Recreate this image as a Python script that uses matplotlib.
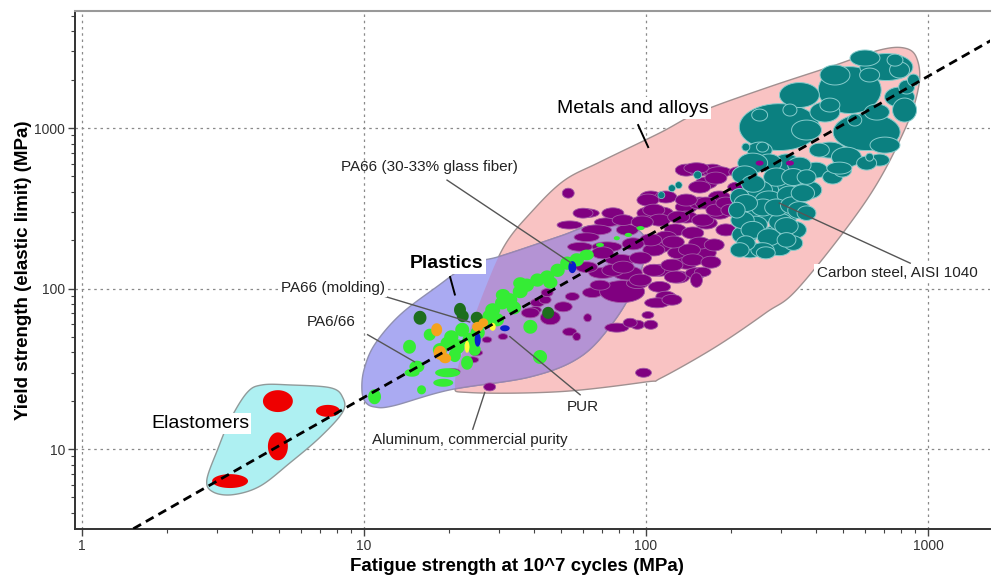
import numpy as np
import matplotlib
matplotlib.use("Agg")
import matplotlib.pyplot as plt
from matplotlib.patches import Polygon
from matplotlib.collections import PolyCollection
from matplotlib import ticker

plt.rcParams['font.family'] = ['Liberation Sans', 'DejaVu Sans']

# ---------------- data ----------------
# family envelopes (fatigue strength, yield strength) in MPa
elast_hull_x = [2.77, 2.92, 3.43, 4.28, 5.46, 7.0, 8.4, 8.4, 7.6, 5.46, 4.35, 3.85, 3.35, 3.03]
elast_hull_y = [6.4, 5.4, 5.2, 5.88, 8.2, 11.9, 17.0, 21.0, 24.1, 25.1, 25.1, 22.5, 15.2, 10.0]

plast_hull_x = [9.83, 10.1, 10.9, 12.7, 20.2, 38.9, 58.4, 76.3, 91.5, 100, 95.6, 80.9, 63.0, 49.6,
                30.4, 23.7, 18.1, 13.4, 10.9, 10.0]
plast_hull_y = [23.4, 19.7, 18.3, 18.6, 23.4, 28.2, 37.5, 61.2, 105, 174, 225, 245, 245, 212,
                159, 142, 102.5, 68.4, 44.7, 31.2]

metal_hull_x = [21.0, 23.7, 49.6, 100, 113.4, 177, 266, 350, 606, 826, 929, 912, 826, 673, 459,
                266, 155, 111.7, 68.7, 50.9, 38.9, 31.6, 26.8, 22.8]
metal_hull_y = [25.1, 22.5, 22.8, 26.2, 27.8, 43.4, 70.6, 102.5, 356, 972, 1853, 2730, 3150, 3060,
                2435, 1775, 1258, 931, 615, 467, 295, 187, 98.6, 44.7]

# material bubbles: (centre fatigue, centre yield, x range factor, y range factor)
elastomers = [(3.35, 6.32, 1.158, 1.105), (4.95, 10.4, 1.085, 1.222),
              (4.95, 19.9, 1.13, 1.17), (7.45, 17.3, 1.103, 1.09)]

green = [(10.9, 21.2, 1.054, 1.114), (14.5, 43.4, 1.054, 1.105), (16.0, 23.4, 1.037, 1.067),
         (15.4, 32.6, 1.063, 1.09), (14.8, 29.9, 1.063, 1.059), (19.8, 29.9, 1.108, 1.067),
         (19.1, 25.9, 1.085, 1.059), (23.2, 34.5, 1.05, 1.105), (22.3, 55.4, 1.059, 1.105),
         (21.4, 43.4, 1.063, 1.114), (19.8, 45.7, 1.06, 1.1), (18.6, 41.6, 1.06, 1.1),
         (23.7, 48.0, 1.06, 1.105), (25.3, 53.1, 1.06, 1.1), (26.8, 61.9, 1.06, 1.1),
         (28.6, 73.7, 1.063, 1.1), (30.9, 81.5, 1.06, 1.1), (32.9, 85.1, 1.063, 1.1),
         (35.8, 95.8, 1.063, 1.1), (37.8, 105, 1.06, 1.1), (41.2, 113, 1.06, 1.1),
         (44.6, 118, 1.06, 1.1), (48.6, 130, 1.06, 1.1), (52.6, 144, 1.06, 1.1),
         (56.8, 151, 1.06, 1.1), (61.6, 162, 1.06, 1.08), (38.9, 57.8, 1.059, 1.105),
         (42.1, 37.5, 1.059, 1.105), (35.8, 108, 1.059, 1.09), (17.1, 51.6, 1.05, 1.09),
         (21.0, 38.5, 1.05, 1.105), (24.7, 41.6, 1.05, 1.09), (27.9, 67.4, 1.06, 1.1),
         (31.1, 91.2, 1.06, 1.09), (20.4, 50.0, 1.06, 1.1), (29.6, 64.0, 1.06, 1.1),
         (34.0, 76.0, 1.06, 1.1), (45.8, 109, 1.06, 1.09),
         (68.7, 187, 1.033, 1.03), (78.8, 206, 1.025, 1.03),
         (86.6, 216, 1.03, 1.03), (95.6, 238, 1.033, 1.03)]

dark_green = [(15.8, 65.8, 1.054, 1.105), (21.9, 73.7, 1.05, 1.105), (22.4, 67.4, 1.05, 1.09),
              (25.1, 65.8, 1.05, 1.09), (45.0, 70.6, 1.05, 1.09)]

orange = [(18.1, 55.4, 1.046, 1.098), (18.6, 39.8, 1.054, 1.105), (19.4, 36.8, 1.05, 1.074),
          (25.3, 57.8, 1.046, 1.074), (26.5, 61.2, 1.04, 1.067)]

yellow = [(23.2, 43.4, 1.02, 1.09), (28.6, 57.8, 1.025, 1.059)]

blue = [(25.3, 48.0, 1.025, 1.105), (54.8, 136, 1.033, 1.09), (31.6, 56.6, 1.04, 1.044)]

purple = [(41.2, 81.5, 1.059, 1.059), (43.9, 85.1, 1.05, 1.059), (40.5, 73.7, 1.05, 1.051),
          (45.8, 65.8, 1.085, 1.105), (27.3, 48.0, 1.04, 1.044), (24.3, 36.0, 1.05, 1.044),
          (20.7, 30.4, 1.059, 1.044), (31.1, 50.2, 1.04, 1.044), (38.9, 70.6, 1.076, 1.074),
          (50.9, 77.0, 1.076, 1.074), (54.8, 89.2, 1.059, 1.059), (62.1, 65.8, 1.033, 1.059),
          (53.6, 53.8, 1.059, 1.059), (56.8, 50.2, 1.033, 1.059), (27.9, 24.4, 1.05, 1.059),
          (25.1, 39.8, 1.05, 1.044), (44.6, 94.4, 1.05, 1.059),
          (53.0, 393, 1.05, 1.074), (61.6, 295, 1.108, 1.065), (72.7, 259, 1.108, 1.065),
          (66.8, 232, 1.13, 1.074), (61.6, 209, 1.108, 1.065), (58.4, 182, 1.108, 1.065),
          (72.7, 182, 1.13, 1.074), (85.9, 232, 1.094, 1.08), (80.9, 151, 1.13, 1.08),
          (70.2, 125, 1.12, 1.08), (64.6, 94.4, 1.085, 1.074), (82.3, 95.8, 1.202, 1.171),
          (93.3, 108, 1.094, 1.08), (104, 372, 1.094, 1.09), (117.6, 372, 1.094, 1.09),
          (139, 547, 1.094, 1.09), (155, 547, 1.094, 1.09), (163.6, 455, 1.094, 1.09),
          (172, 547, 1.094, 1.09), (114.3, 295, 1.094, 1.09), (101.6, 295, 1.094, 1.09),
          (127.1, 232, 1.094, 1.09), (139, 322, 1.094, 1.09), (155, 341, 1.094, 1.09),
          (146.5, 222, 1.094, 1.09), (111.7, 182, 1.094, 1.09), (130.6, 167, 1.094, 1.09),
          (111.7, 130, 1.094, 1.09), (130.6, 118, 1.094, 1.09), (163.6, 256, 1.094, 1.09),
          (163.6, 167, 1.085, 1.09), (151, 563, 1.108, 1.08), (182, 532, 1.108, 1.08),
          (215, 532, 1.094, 1.08), (177, 488, 1.094, 1.09), (155, 429, 1.094, 1.09),
          (215, 429, 1.103, 1.08), (259, 422, 1.085, 1.08), (182, 372, 1.094, 1.09),
          (163.6, 341, 1.094, 1.09), (139, 356, 1.094, 1.09), (101.6, 356, 1.094, 1.09),
          (106.6, 308, 1.094, 1.09), (111.7, 267, 1.094, 1.09), (139, 279, 1.094, 1.09),
          (159, 267, 1.094, 1.09), (182, 295, 1.094, 1.09), (117.6, 209, 1.094, 1.09),
          (106.6, 174, 1.094, 1.09), (155, 192, 1.094, 1.09), (139, 144, 1.094, 1.09),
          (151, 125, 1.094, 1.08), (76.3, 295, 1.094, 1.08), (83.0, 267, 1.094, 1.08),
          (130.6, 279, 1.094, 1.09), (177, 308, 1.085, 1.09), (192, 341, 1.085, 1.09),
          (142.6, 174, 1.094, 1.09), (146.5, 151, 1.094, 1.09), (159, 127, 1.07, 1.07),
          (151, 113, 1.05, 1.11), (127.1, 118, 1.094, 1.09), (106.6, 130, 1.094, 1.09),
          (85.9, 125, 1.13, 1.105), (76.3, 130, 1.094, 1.09), (111.7, 102.5, 1.094, 1.08),
          (117.6, 89.2, 1.085, 1.08), (109.6, 81.5, 1.108, 1.074), (123.6, 85.1, 1.085, 1.08),
          (101.6, 68.4, 1.05, 1.051), (78.8, 57.1, 1.103, 1.067), (93.3, 59.5, 1.059, 1.067),
          (104, 59.5, 1.059, 1.067), (98.0, 29.9, 1.067, 1.067), (59.8, 295, 1.085, 1.074),
          (104, 201, 1.094, 1.09), (83.0, 136, 1.094, 1.09), (95.6, 113, 1.094, 1.09),
          (87.9, 61.2, 1.059, 1.067), (70.2, 167, 1.094, 1.09), (253, 411, 1.067, 1.074),
          (68.7, 105, 1.085, 1.074), (95.6, 155, 1.094, 1.09), (123.6, 140, 1.094, 1.09),
          (192, 232, 1.085, 1.09), (200, 308, 1.085, 1.09), (174.6, 187, 1.085, 1.09),
          (170, 146, 1.085, 1.09), (53.6, 249, 1.108, 1.06), (61.6, 136, 1.094, 1.08),
          (90.0, 190, 1.094, 1.09), (125, 195, 1.094, 1.09), (97.0, 260, 1.094, 1.09)]

teal = [(297, 1014, 1.387, 1.40), (528, 1725, 1.293, 1.40), (606, 944, 1.315, 1.304),
        (712, 2400, 1.242, 1.214), (793, 1560, 1.13, 1.154), (371, 972, 1.13, 1.154),
        (350, 1606, 1.177, 1.196), (431, 1258, 1.13, 1.154), (468, 2140, 1.13, 1.154),
        (598, 2730, 1.13, 1.122), (793, 2300, 1.085, 1.122), (826, 1295, 1.103, 1.188),
        (704, 783, 1.13, 1.122), (449, 729, 1.13, 1.122), (253, 729, 1.108, 1.122),
        (673, 632, 1.085, 1.09),
        (514, 659, 1.13, 1.154), (606, 605, 1.085, 1.105), (315, 605, 1.11, 1.14),
        (273, 605, 1.11, 1.14), (350, 455, 1.11, 1.14), (305, 429, 1.11, 1.14),
        (266, 411, 1.11, 1.14), (401, 547, 1.1, 1.12), (459, 495, 1.085, 1.105),
        (498, 547, 1.076, 1.105), (226, 761, 1.033, 1.059), (621, 659, 1.033, 1.059),
        (840, 1800, 1.067, 1.105), (888, 1990, 1.05, 1.09), (239, 605, 1.13, 1.154),
        (259, 761, 1.05, 1.074), (290, 495, 1.11, 1.14), (253, 411, 1.11, 1.14),
        (224, 510, 1.11, 1.14), (273, 356, 1.12, 1.14), (324, 382, 1.11, 1.14),
        (253, 287, 1.11, 1.14), (311, 287, 1.11, 1.14), (224, 216, 1.11, 1.14),
        (287, 216, 1.11, 1.14), (337, 232, 1.1, 1.13), (234, 174, 1.1, 1.12),
        (297, 178, 1.1, 1.11), (382, 411, 1.1, 1.13), (350, 588, 1.1, 1.12),
        (215, 372, 1.08, 1.13), (245, 250, 1.1, 1.13), (300, 260, 1.1, 1.13),
        (260, 320, 1.1, 1.13), (290, 320, 1.1, 1.13), (240, 450, 1.1, 1.13),
        (330, 330, 1.1, 1.13),
        (226, 341, 1.1, 1.13), (220, 267, 1.1, 1.13), (239, 232, 1.1, 1.13),
        (273, 209, 1.1, 1.13), (315, 245, 1.1, 1.13), (350, 308, 1.1, 1.13),
        (360, 393, 1.1, 1.13), (333, 495, 1.1, 1.13), (371, 495, 1.08, 1.11),
        (333, 192, 1.08, 1.11), (259, 174, 1.1, 1.11), (226, 192, 1.08, 1.11),
        (210, 308, 1.07, 1.12), (215, 174, 1.08, 1.11), (266, 167, 1.08, 1.09),
        (315, 201, 1.08, 1.11), (371, 295, 1.08, 1.11), (485, 563, 1.108, 1.09),
        (412, 729, 1.085, 1.105), (659, 1258, 1.108, 1.122), (449, 1391, 1.085, 1.105),
        (621, 2140, 1.085, 1.105), (764, 2650, 1.067, 1.09), (253, 1205, 1.067, 1.09),
        (324, 1295, 1.059, 1.09), (550, 1122, 1.059, 1.09)]

teal_dots = [(113.4, 382, 1.029, 1.051), (123.6, 422, 1.029, 1.051), (130.6, 441, 1.029, 1.051),
             (152.5, 510, 1.033, 1.059)]

purple_in_teal = [(253, 605, 1.033, 1.037), (324, 605, 1.033, 1.037)]

guide_x = [1.52, 1700]
guide_y = [3.19, 3570]

x_ticks = [1, 10, 100, 1000]
y_ticks = [10, 100, 1000]

# ---------------- helpers ----------------
def smooth_closed(xs, ys, n=24):
    P = np.column_stack([np.log10(xs), np.log10(ys)])
    m = len(P)
    t = np.linspace(0, 1, n, endpoint=False)[:, None]
    out = []
    for i in range(m):
        p0, p1, p2, p3 = P[i - 1], P[i], P[(i + 1) % m], P[(i + 2) % m]
        seg = 0.5 * ((2 * p1) + (-p0 + p2) * t + (2 * p0 - 5 * p1 + 4 * p2 - p3) * t ** 2
                     + (-p0 + 3 * p1 - 3 * p2 + p3) * t ** 3)
        out.append(seg)
    out = np.vstack(out)
    return np.column_stack([10 ** out[:, 0], 10 ** out[:, 1]])


def bubble(b, n=48):
    cx, cy, xf, yf = b
    t = np.linspace(0, 2 * np.pi, n)
    lx = np.log10(cx) + np.log10(xf) * np.cos(t)
    ly = np.log10(cy) + np.log10(yf) * np.sin(t)
    return np.column_stack([10 ** lx, 10 ** ly])


def add_bubbles(ax, items, fc, ec='none', lw=0.0, z=3):
    pc = PolyCollection([bubble(b) for b in items], facecolors=fc, edgecolors=ec,
                        linewidths=lw, zorder=z)
    ax.add_collection(pc)

# ---------------- figure ----------------
fig = plt.figure(figsize=(9.93, 5.8), dpi=100)
ax = fig.add_axes([0.0755, 0.088, 0.9215, 0.893])
ax.set_xscale('log')
ax.set_yscale('log')
ax.set_xlim(0.944, 1660)
ax.set_ylim(3.18, 5360)

# envelopes
metal_patch = Polygon(smooth_closed(metal_hull_x, metal_hull_y), closed=True,
                      fc='#f9c3c3', ec='#a09090', lw=1.0, zorder=1)
ax.add_patch(metal_patch)
plast_pts = smooth_closed(plast_hull_x, plast_hull_y)
ax.add_patch(Polygon(plast_pts, closed=True, fc='#aaaaf2', ec='#9090b0', lw=1.0, zorder=1.1))
overlap = Polygon(plast_pts, closed=True, fc='#b493d4', ec='#9a86b0', lw=1.0, zorder=1.2)
ax.add_patch(overlap)
overlap.set_clip_path(metal_patch)
ax.add_patch(Polygon(smooth_closed(elast_hull_x, elast_hull_y), closed=True,
                     fc='#aef0f2', ec='#909a9a', lw=1.0, zorder=1))

ax.grid(True, which='major', ls=(0, (2, 3)), color='#8a8a8a', lw=0.9, zorder=2)
ax.set_axisbelow(True)

# bubbles
add_bubbles(ax, elastomers, '#ee0000', z=3)
add_bubbles(ax, purple, '#800080', ec='#a15aa5', lw=0.6, z=3)
add_bubbles(ax, purple_in_teal, '#900090', z=3.2)
add_bubbles(ax, teal, '#0b8080', ec='#86cccc', lw=0.7, z=3.1)
add_bubbles(ax, teal_dots, '#0b8080', ec='#86cccc', lw=0.5, z=3.1)
add_bubbles(ax, green, '#35ec35', z=3.3)
add_bubbles(ax, dark_green, '#1d6e1d', z=3.4)
add_bubbles(ax, orange, '#f5a21c', z=3.5)
add_bubbles(ax, yellow, '#ffff38', z=3.6)
add_bubbles(ax, blue, '#0a1ecc', z=3.6)

# guide line
ax.plot(guide_x, guide_y, color='black', lw=2.0, ls=(0, (3.2, 2.0)), zorder=4)

# labels
box = dict(fc='white', ec='none', pad=1.5)
ax.text(89.9, 1333, 'Metals and alloys', fontsize=14, ha='center', va='center', bbox=box, zorder=6)
ax.plot([93.8, 101.8], [1044, 761], color='black', lw=1.4, zorder=5)
ax.text(19.7, 144, 'Plastics', fontsize=14, fontweight='bold', ha='center', va='center',
        bbox=box, zorder=6)
ax.plot([20.2, 21.0], [118, 91.8], color='black', lw=1.4, zorder=5)
ax.text(2.62, 14.5, 'Elastomers', fontsize=14, ha='center', va='center', bbox=box, zorder=6)

small = dict(fontsize=11, ha='center', va='center', zorder=6, color='#222222')
ax.text(17.1, 571, 'PA66 (30-33% glass fiber)', **small)
ax.plot([19.7, 54.4], [474, 144], color='#555555', lw=1.0, zorder=5)
ax.text(7.76, 100.7, 'PA66 (molding)', bbox=box, **small)
ax.plot([11.9, 23.7], [89.2, 61.9], color='#555555', lw=1.0, zorder=5)
ax.text(7.64, 61.9, 'PA6/66', **small)
ax.plot([10.3, 15.1], [51.6, 35.0], color='#555555', lw=1.0, zorder=5)
ax.text(59.8, 18.3, 'PUR', **small)
ax.plot([32.9, 58.4], [50.2, 21.8], color='#555555', lw=1.0, zorder=5)
ax.text(23.7, 11.4, 'Aluminum, commercial purity', bbox=box, **small)
ax.plot([26.8, 24.3], [22.5, 13.3], color='#555555', lw=1.0, zorder=5)
ax.text(776, 125, 'Carbon steel, AISI 1040', bbox=box, **small)
ax.plot([297, 865], [341, 144], color='#555555', lw=1.0, zorder=5)

# axes styling
ax.set_xticks(x_ticks)
ax.set_yticks(y_ticks)
fmt = ticker.FuncFormatter(lambda v, p: f'{v:g}')
ax.xaxis.set_major_formatter(fmt)
ax.yaxis.set_major_formatter(fmt)
ax.xaxis.set_minor_formatter(ticker.NullFormatter())
ax.yaxis.set_minor_formatter(ticker.NullFormatter())
ax.tick_params(which='major', length=5, width=1.0, color='#444444', labelsize=10,
               labelcolor='#333333', pad=2)
ax.tick_params(which='minor', length=3, width=0.8, color='#444444')
ax.spines['right'].set_visible(False)
ax.spines['top'].set_color('#999999')
ax.spines['top'].set_linewidth(1.5)
for s in ('left', 'bottom'):
    ax.spines[s].set_color('#333333')
    ax.spines[s].set_linewidth(1.4)

ax.set_xlabel('Fatigue strength at 10^7 cycles (MPa)', fontsize=13.5, fontweight='bold')
ax.set_ylabel('Yield strength (elastic limit) (MPa)', fontsize=13.5, fontweight='bold')
ax.xaxis.set_label_coords(0.483, -0.056)
ax.yaxis.set_label_coords(-0.047, 0.5)

fig.savefig('out.png', dpi=100)
